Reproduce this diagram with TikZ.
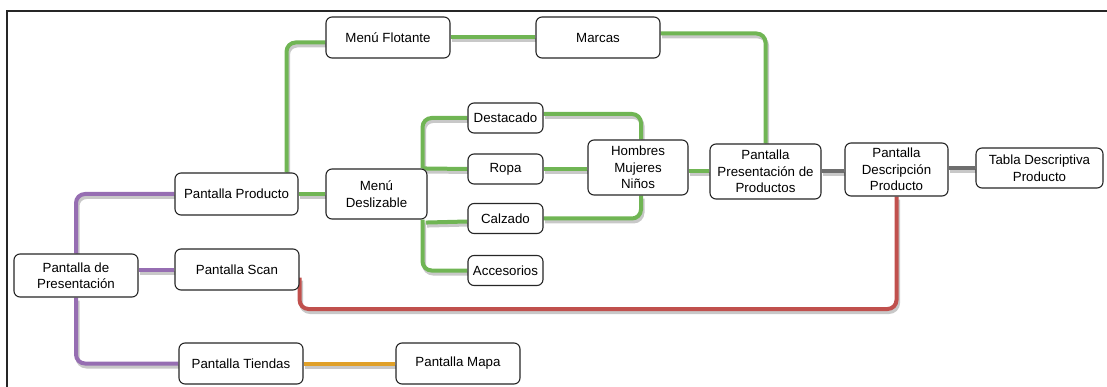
\documentclass[tikz,border=0pt]{standalone}
\usepackage{fontspec}
\setmainfont{Liberation Sans}
\definecolor{navGreen}{RGB}{112,181,84}
\definecolor{navPurple}{RGB}{150,110,178}
\definecolor{navRed}{RGB}{192,80,77}
\definecolor{navOrange}{RGB}{224,160,40}
\definecolor{navGray}{RGB}{110,110,110}
\definecolor{navShadow}{RGB}{200,200,200}
\usetikzlibrary{backgrounds}

\begin{document}
\begin{tikzpicture}[x=1pt, y=-1pt,
  box/.style={draw=black!85, line width=1.1pt, rounded corners=6pt, fill=white,
              inner sep=0pt, align=center, font=\fontsize{13.3}{16.5}\selectfont,
              minimum width=124pt, minimum height=41pt},
  small/.style={box, minimum width=75pt, minimum height=30pt},
  link/.style={line width=4pt, rounded corners=9pt,
               preaction={draw=navShadow, line width=4pt,
                          transform canvas={shift={(1.5pt,-3pt)}}}}
]
  \useasboundingbox (0,0) rectangle (1107,387);
  \draw[line width=1.8pt, black!85] (1107,11) -- (7,11) -- (7,387);

  % pantallas
  \node[box] (flot) at (388,37.5) {Menú Flotante};
  \node[box] (marcas) at (598,37.5) {Marcas};
  \node[small] (dest) at (505.5,118) {Destacado};
  \node[small] (ropa) at (505.5,169) {Ropa};
  \node[small] (calz) at (505.5,218.5) {Calzado};
  \node[small] (acc) at (505.5,270.5) {Accesorios};
  \node[box, minimum width=100pt, minimum height=55pt] (homb) at (638,167.5) {Hombres\\Mujeres\\Niños};
  \node[box, minimum width=111pt, minimum height=55pt] (presprod) at (765.5,171.5) {Pantalla\\Presentación de\\Productos};
  \node[box, minimum width=103pt, minimum height=53pt] (desc) at (896.5,169.5) {Pantalla\\Descripción\\Producto};
  \node[box, minimum width=127pt, minimum height=40pt] (tabla) at (1039.5,168) {Tabla Descriptiva\\Producto};
  \node[box, minimum width=123pt, minimum height=42pt] (prod) at (236.5,194) {Pantalla Producto};
  \node[box, minimum width=101pt, minimum height=50pt] (desl) at (376.5,194) {Menú\\Deslizable};
  \node[box, minimum height=43pt] (pres) at (76,275.5) {Pantalla de\\Presentación};
  \node[box] (scan) at (237,269.5) {Pantalla Scan};
  \node[box] (tiendas) at (241,363.5) {Pantalla Tiendas};
  \node[box] (mapa) at (458,363.5) {Pantalla Mapa};
  \coordinate (redlow) at (600,309);

  % conexiones
  \begin{scope}[on background layer]
    \draw[link, navPurple] (pres.north) |- (prod.west);
    \draw[link, navPurple] (pres.east |- scan.west) -- (scan.west);
    \draw[link, navPurple] (pres.south) |- (tiendas.west);
    \draw[link, navOrange] (tiendas) -- (mapa);

    \draw[link, navGreen] ([xshift=-12pt]prod.north east) |- ([yshift=-5pt]flot.west);
    \draw[link, navGreen] (flot) -- (marcas);
    \draw[link, navGreen] ([yshift=4pt]marcas.east) -| (presprod.north);
    \draw[link, navGreen] (prod) -- (desl);
    \draw[link, navGreen] ([xshift=-5pt]desl.north east) |- (dest.west);
    \draw[link, navGreen] ([xshift=-5pt]desl.north east) -- (ropa.west);
    \draw[link, navGreen] ([xshift=-2pt,yshift=-3pt]desl.south east) -- ([yshift=-3pt]calz.west);
    \draw[link, navGreen] ([xshift=-5pt]desl.south east) |- (acc.west);
    \draw[link, navGreen] ([yshift=4pt]dest.east) -| ([xshift=3pt]homb.north);
    \draw[link, navGreen] (ropa.east) -- (ropa.east -| homb.west);
    \draw[link, navGreen] (calz.east) -| ([xshift=3pt]homb.south);
    \draw[link, navGreen] (presprod.west -| homb.east) -- (presprod.west);

    \draw[link, navGray] (presprod.east) -- (presprod.east -| desc.west);
    \draw[link, navGray] (desc.east |- tabla.west) -- (tabla.west);

    \draw[link, navRed] ([yshift=-8pt]scan.east) |- (redlow) -| (desc.south);
  \end{scope}
\end{tikzpicture}
\end{document}
